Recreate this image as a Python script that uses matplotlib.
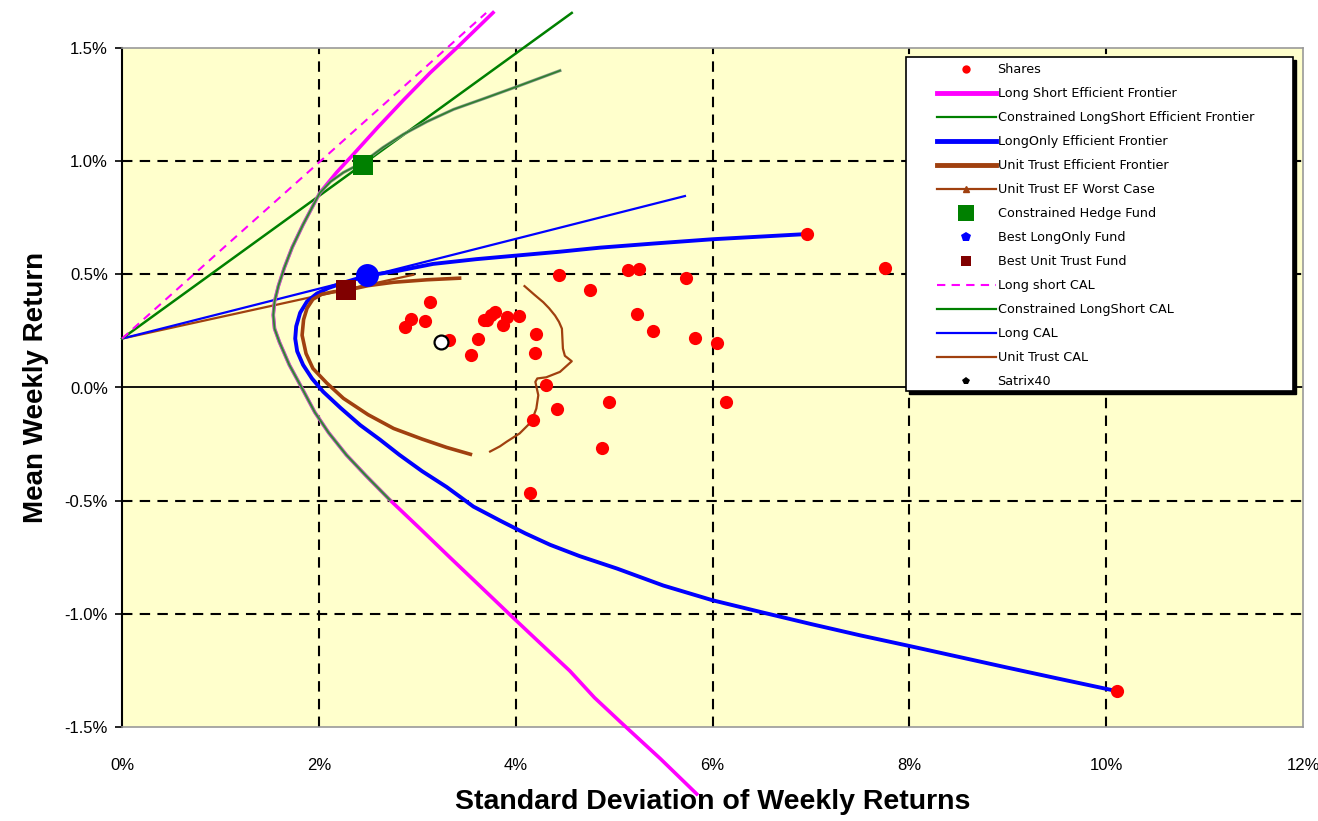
import numpy as np
import matplotlib.pyplot as plt
from matplotlib.lines import Line2D
from matplotlib.patches import Rectangle

plt.rcParams['font.family'] = ['Liberation Sans', 'DejaVu Sans']

# values in percent (std dev, mean weekly return)
shares_sd = [3.13, 2.94, 2.875, 3.08, 3.32, 3.62, 3.55, 3.705, 3.79, 3.87, 3.91, 4.03,
             4.21, 4.196, 4.44, 4.76, 5.14, 5.25, 5.73, 5.23, 5.40, 5.82, 6.05, 4.31,
             4.42, 4.18, 4.95, 6.14, 4.88, 4.145, 6.96, 7.75, 10.11, 3.68, 3.75]
shares_mu = [0.377, 0.304, 0.269, 0.292, 0.211, 0.216, 0.142, 0.297, 0.333, 0.275, 0.311, 0.318,
             0.238, 0.154, 0.498, 0.429, 0.517, 0.524, 0.483, 0.326, 0.248, 0.219, 0.198, 0.010,
             -0.093, -0.144, -0.066, -0.066, -0.266, -0.467, 0.678, 0.527, -1.339, 0.30, 0.32]

ls_ef_sd = [5.84, 5.47, 5.09, 4.80, 4.55, 4.25, 3.94, 3.62, 3.33, 3.02, 2.72, 2.48, 2.28, 2.10,
            1.96, 1.825, 1.70, 1.60, 1.55, 1.537, 1.55, 1.59, 1.65, 1.73, 1.84, 2.01, 2.18,
            2.35, 2.60, 2.86, 3.13, 3.40, 3.77]
ls_ef_mu = [-1.796, -1.64, -1.488, -1.37, -1.252, -1.13, -1.003, -0.87, -0.75, -0.62, -0.496, -0.39,
            -0.298, -0.20, -0.11, 0.0, 0.10, 0.20, 0.26, 0.32, 0.38, 0.45, 0.53, 0.62, 0.72, 0.86,
            0.95, 1.03, 1.15, 1.27, 1.39, 1.50, 1.656]

cls_ef_sd = [2.72, 2.48, 2.28, 2.10, 1.96, 1.825, 1.70, 1.60, 1.55, 1.537, 1.55, 1.59, 1.65,
             1.73, 1.84, 2.01, 2.12, 2.25, 2.45, 2.65, 2.86, 3.10, 3.37, 3.70, 4.01, 4.45]
cls_ef_mu = [-0.496, -0.39, -0.298, -0.20, -0.11, 0.0, 0.10, 0.20, 0.26, 0.32, 0.38, 0.45, 0.53,
             0.62, 0.72, 0.86, 0.91, 0.95, 0.995, 1.06, 1.119, 1.175, 1.229, 1.28, 1.329, 1.40]

lo_ef_sd = [10.05, 9.5, 9.0, 8.5, 8.0, 7.5, 7.0, 6.5, 6.0, 5.5, 5.03, 4.65, 4.35, 4.10, 3.85,
            3.57, 3.30, 3.05, 2.82, 2.62, 2.42, 2.22, 2.045, 1.93, 1.84, 1.78, 1.76, 1.77, 1.81,
            1.88, 1.98, 2.10, 2.28, 2.49, 2.80, 3.16, 3.60, 4.01, 4.45, 4.86, 5.40, 6.0, 6.50, 6.96]
lo_ef_mu = [-1.336, -1.285, -1.238, -1.19, -1.142, -1.095, -1.045, -0.993, -0.94, -0.875, -0.80,
            -0.745, -0.695, -0.645, -0.59, -0.526, -0.44, -0.37, -0.298, -0.23, -0.166, -0.09,
            -0.019, 0.04, 0.10, 0.16, 0.216, 0.27, 0.33, 0.38, 0.415, 0.44, 0.467, 0.494, 0.515,
            0.546, 0.567, 0.583, 0.60, 0.618, 0.636, 0.655, 0.667, 0.678]

ut_ef_sd = [3.54, 3.30, 3.05, 2.76, 2.50, 2.25, 2.08, 1.94, 1.87, 1.83, 1.845, 1.88, 1.94,
            2.03, 2.15, 2.276, 2.50, 2.76, 3.10, 3.43]
ut_ef_mu = [-0.295, -0.265, -0.228, -0.181, -0.12, -0.048, 0.02, 0.084, 0.15, 0.231, 0.30, 0.35,
            0.39, 0.412, 0.423, 0.429, 0.45, 0.465, 0.476, 0.483]

ut_wc_sd = [3.74, 3.84, 3.91, 4.04, 4.16, 4.21, 4.23, 4.20, 4.22, 4.31, 4.45, 4.57, 4.50, 4.48,
            4.47, 4.44, 4.40, 4.34, 4.28, 4.19, 4.09]
ut_wc_mu = [-0.283, -0.26, -0.239, -0.203, -0.151, -0.093, -0.034, 0.025, 0.04, 0.045, 0.069,
            0.116, 0.14, 0.172, 0.26, 0.29, 0.318, 0.35, 0.377, 0.41, 0.448]

rf = 0.216
ls_cal_sd, ls_cal_mu = [0, 3.70], [rf, 1.655]
cls_cal_sd, cls_cal_mu = [0, 4.57], [rf, 1.655]
lo_cal_sd, lo_cal_mu = [0, 5.72], [rf, 0.846]
ut_cal_sd, ut_cal_mu = [0, 2.96], [rf, 0.498]

hedge = (2.45, 0.985)
best_lo = (2.486, 0.495)
best_ut = (2.276, 0.429)
satrix = (3.24, 0.201)

xticks = [0, 2, 4, 6, 8, 10, 12]
yticks = [-1.5, -1.0, -0.5, 0.0, 0.5, 1.0, 1.5]

fig = plt.figure(figsize=(13.18, 8.21), dpi=100)
ax = fig.add_axes([122/1318, 1 - 727/821, 1181/1318, 679/821])
ax.set_facecolor('#ffffcc')
ax.set_xlim(0, 12)
ax.set_ylim(-1.5, 1.5)

for v in xticks[1:-1]:
    ax.axvline(v, color='black', lw=1.5, dashes=(5, 3.5), zorder=1)
for v in yticks[1:-1]:
    if v != 0:
        ax.axhline(v, color='black', lw=1.5, dashes=(5, 3.5), zorder=1)
ax.axhline(0, color='black', lw=1.3, zorder=1)

brown = '#a0400f'
ax.plot(ut_cal_sd, ut_cal_mu, color=brown, lw=1.6, zorder=3)
ax.plot(lo_cal_sd, lo_cal_mu, color='#0000ff', lw=1.6, zorder=3)
ax.plot(cls_cal_sd, cls_cal_mu, color='#008000', lw=1.8, zorder=3, clip_on=False)
ax.plot(ls_cal_sd, ls_cal_mu, color='#ff00ff', lw=1.5, dashes=(4, 3), zorder=3, clip_on=False)

ax.plot(ls_ef_sd, ls_ef_mu, color='#ff00ff', lw=2.6, zorder=4, clip_on=False)
ax.plot(cls_ef_sd, cls_ef_mu, color='#8a9a8a', lw=2.2, zorder=4)
ax.plot(cls_ef_sd, cls_ef_mu, color='#2f7f2f', lw=1.2, zorder=4)
ax.plot(lo_ef_sd, lo_ef_mu, color='#0000ff', lw=2.8, zorder=4)
ax.plot(ut_ef_sd, ut_ef_mu, color=brown, lw=2.6, zorder=4)
ax.plot(ut_wc_sd, ut_wc_mu, color=brown, lw=1.6, zorder=4)

ax.plot(shares_sd, shares_mu, 'o', color='#ff0000', ms=9.5, mew=0, zorder=5)
ax.plot(*hedge, 's', color='#008000', ms=15, mew=0, zorder=6)
ax.plot(*best_lo, 'o', color='#0000ff', ms=16.5, mew=0, zorder=6)
ax.plot(*best_ut, 's', color='#800000', ms=15, mew=0, zorder=6)
ax.plot(*satrix, 'o', color='white', mec='black', mew=1.6, ms=10, zorder=7)

ax.set_xticks(xticks)
ax.set_xticklabels([f'{v}%' for v in xticks])
ax.set_yticks(yticks)
ax.set_yticklabels([f'{v:.1f}%' for v in yticks])
ax.tick_params(axis='x', length=0, pad=22, labelsize=12)
ax.tick_params(axis='y', length=5, width=1.2, pad=5, labelsize=12, direction='out')
for s in ['top', 'right', 'bottom']:
    ax.spines[s].set_color('#999999')
    ax.spines[s].set_linewidth(1.2)
ax.spines['left'].set_color('black')
ax.spines['left'].set_linewidth(1.5)

ax.set_xlabel('Standard Deviation of Weekly Returns', fontsize=20.5, fontweight='bold', labelpad=12)
ax.set_ylabel('Mean Weekly Return', fontsize=20, fontweight='bold', labelpad=11)

# legend box with black drop shadow
bx0, by0, bw, bh = 0.664, 0.4948, 0.3275, 0.4919
ax.add_patch(Rectangle((bx0 + 0.0028, by0 - 0.0046), bw, bh, transform=ax.transAxes,
                       facecolor='black', edgecolor='black', zorder=8, clip_on=False))
ax.add_patch(Rectangle((bx0, by0), bw, bh, transform=ax.transAxes,
                       facecolor='white', edgecolor='black', lw=1.2, zorder=9, clip_on=False))

handles = [
    Line2D([], [], ls='none', marker='o', color='#ff0000', ms=6, mew=0),
    Line2D([], [], color='#ff00ff', lw=3.5),
    Line2D([], [], color='#008000', lw=1.6),
    Line2D([], [], color='#0000ff', lw=3.5),
    Line2D([], [], color=brown, lw=3.5),
    Line2D([], [], color=brown, lw=1.6, marker='^', ms=4, markevery=[1]),
    Line2D([], [], ls='none', marker='s', color='#008000', ms=11, mew=0),
    Line2D([], [], ls='none', marker='p', color='#0000ff', ms=7, mew=0),
    Line2D([], [], ls='none', marker='s', color='#800000', ms=7, mew=0),
    Line2D([], [], color='#ff00ff', lw=1.5, dashes=(4, 3)),
    Line2D([], [], color='#008000', lw=1.6),
    Line2D([], [], color='#0000ff', lw=1.6),
    Line2D([], [], color=brown, lw=1.6),
    Line2D([], [], ls='none', marker='p', color='black', ms=6, mew=0),
]
labels = ['Shares', 'Long Short Efficient Frontier', 'Constrained LongShort Efficient Frontier',
          'LongOnly Efficient Frontier', 'Unit Trust Efficient Frontier', 'Unit Trust EF Worst Case',
          'Constrained Hedge Fund', 'Best LongOnly Fund', 'Best Unit Trust Fund', 'Long short CAL',
          'Constrained LongShort CAL', 'Long CAL', 'Unit Trust CAL', 'Satrix40']
leg = ax.legend(handles, labels, loc='upper left', bbox_to_anchor=(0.690, 0.9772),
                prop={'family': 'DejaVu Sans', 'size': 9.2}, handlelength=4.6, labelspacing=0.86,
                handletextpad=0.15, borderpad=0, borderaxespad=0, frameon=False)
leg.set_zorder(10)

plt.savefig('out.png', dpi=100)
